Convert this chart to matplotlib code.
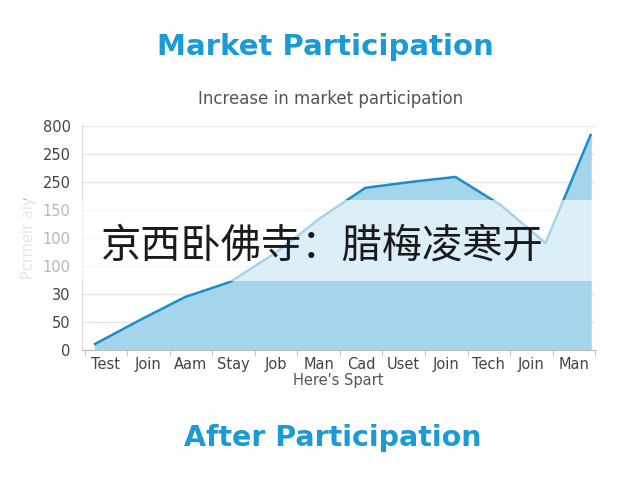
import matplotlib
matplotlib.use("Agg")
import matplotlib.pyplot as plt
from matplotlib.patches import Rectangle

categories = ["Test", "Join", "Aam", "Stay", "Job", "Man", "Cad", "Uset", "Join", "Tech", "Join", "Man"]
values = [0.21, 1.07, 1.89, 2.43, 3.46, 4.71, 5.79, 6.0, 6.18, 5.18, 3.82, 7.68]
ytick_labels = ["0", "50", "30", "100", "100", "150", "250", "250", "800"]

title = "Market Participation"
subtitle = "Increase in market participation"
footer = "After Participation"
xlabel = "Here's Spart"
ylabel = "Pcrmeir aiy"
overlay = "京西卧佛寺：腊梅凌寒开"

fill_color = "#a5d5ea"
line_color = "#1b8ec8"

fig = plt.figure(figsize=(6.4, 4.8), dpi=100)
ax = fig.add_axes([0.128, 0.271, 0.802, 0.4665])

x = list(range(len(categories)))
ax.fill_between(x, values, 0, color=fill_color, zorder=2)
ax.plot(x, values, color=line_color, lw=1.8, zorder=3)

ax.set_xlim(-0.29, 11.02)
ax.set_ylim(0, 8)
ax.set_yticks(range(len(ytick_labels)))
ax.set_yticklabels(ytick_labels, fontsize=10.5, color="#444444")
ax.yaxis.grid(True, color="#e4e4e4", lw=0.9, zorder=0)
ax.set_axisbelow(True)

step = (10.63 - 0.24) / 11
label_pos = [0.24 + i * step for i in range(len(categories))]
ax.set_xticks(label_pos)
ax.set_xticklabels(categories, fontsize=10.5, color="#444444")
ax.tick_params(axis="x", length=0, pad=5)
ax.set_xticks([p - step / 2 for p in label_pos] + [label_pos[-1] + step / 2], minor=True)
ax.tick_params(axis="x", which="minor", length=4, color="#bbbbbb")
ax.tick_params(axis="y", length=0, pad=8)

for s in ["top", "right"]:
    ax.spines[s].set_visible(False)
ax.spines["left"].set_color("#d8d8d8")
ax.spines["bottom"].set_color("#bbbbbb")

ax.set_xlabel(xlabel, fontsize=10.5, color="#555555", labelpad=1)
ax.set_ylabel(ylabel, fontsize=10.5, color="#bbbbbb", labelpad=5)

fig.text(0.508, 0.902, title, ha="center", va="center", fontsize=21, fontweight="bold", color="#1a9ad6")
fig.text(0.517, 0.794, subtitle, ha="center", va="center", fontsize=12, color="#555555")
fig.text(0.52, 0.087, footer, ha="center", va="center", fontsize=20.5, fontweight="bold", color="#1a9ad6")

fig.patches.append(Rectangle((0.0, 0.415), 0.93, 0.168, transform=fig.transFigure,
                             facecolor="white", alpha=0.62, edgecolor="none", zorder=5))
fig.text(0.157, 0.487, overlay, ha="left", va="center", fontsize=29, color="#1a1a1a",
         family=["Noto Sans CJK SC", "DejaVu Sans"], zorder=6)

fig.savefig("out.png", dpi=100, facecolor="white")
